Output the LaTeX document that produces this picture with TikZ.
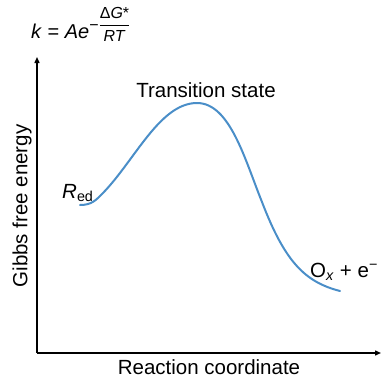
\documentclass[tikz,border=0pt]{standalone}
\usepackage{amsmath}
\usepackage{fontspec}
\setmainfont{Liberation Sans}
\usetikzlibrary{arrows.meta}
\definecolor{curveblue}{RGB}{74,142,200}
\tikzset{
  axis/.style={line width=1.4pt, -{Triangle[length=6pt,width=5pt]}},
  energy/.style={line width=2pt, curveblue, line cap=round},
  lbl/.style={font=\fontsize{20.5}{24}\selectfont, inner sep=0pt}
}
\begin{document}
\begin{tikzpicture}[x=1pt,y=-1pt]
\useasboundingbox (0,0) rectangle (381,378);
\coordinate (O) at (37,353);
\coordinate (ytop) at (37,57);
\coordinate (xend) at (381,353);
\draw[axis] (O) -- (ytop);
\draw[axis] (O) -- (xend);
\draw[energy] (80,205) .. controls (92,205) and (96,200) .. (103,193)
  .. controls (135,160) and (160,103) .. (197,103)
  .. controls (230,103) and (245,160) .. (262,202)
  .. controls (285,262) and (305,282) .. (340,291);
\node[lbl, anchor=base west, font=\fontsize{20}{24}\selectfont] (formula) at (31,38)
  {\textit{k} = \textit{Ae}\raisebox{8pt}{\fontsize{16}{18}\selectfont$\text{−}\genfrac{}{}{0.7pt}{0}{\text{Δ\textit{G}*}}{\text{\textit{RT}}}$}};
\node[lbl] (ts) at (206,90) {Transition state};
\node[lbl] (rc) at (209,367) {Reaction coordinate};
\node[lbl, rotate=90] (gfe) at (22,206) {Gibbs free energy};
\node[lbl, anchor=base west] (red) at (62,198) {\textit{R}\textsubscript{ed}};
\node[lbl, anchor=base west] (ox) at (310,277) {O\textsubscript{\textit{x}} + e\textsuperscript{−}};
\end{tikzpicture}
\end{document}
